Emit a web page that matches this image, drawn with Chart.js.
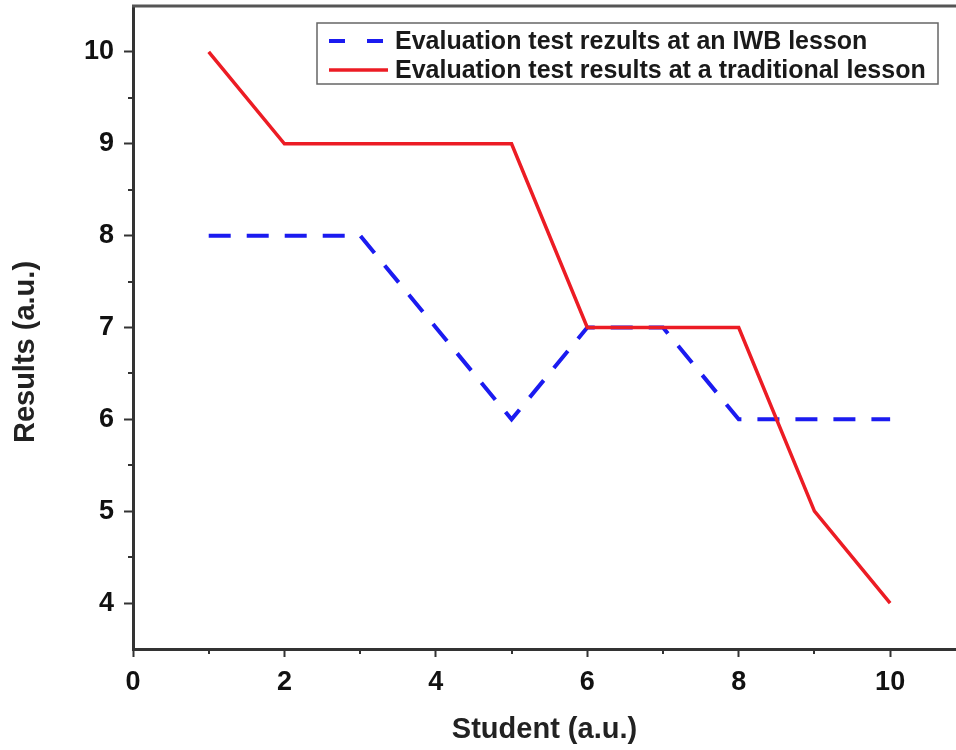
<!DOCTYPE html>
<html>
<head>
<meta charset="utf-8">
<script src="https://cdn.jsdelivr.net/npm/chart.js@4"></script>
<style>
  html, body { margin: 0; padding: 0; background: #fff; }
  #wrap { width: 956px; height: 750px; }
</style>
</head>
<body>
<div id="wrap"><canvas id="chart" width="956" height="750"></canvas></div>
<script>
// Student numbers and test results
const students = [1, 2, 3, 4, 5, 6, 7, 8, 9, 10];
const iwbResults = [8, 8, 8, 7, 6, 7, 7, 6, 6, 6];
const traditionalResults = [10, 9, 9, 9, 9, 7, 7, 7, 5, 4];

const seriesLabels = [
    'Evaluation test rezults at an IWB lesson',
    'Evaluation test results at a traditional lesson'
];

const xMajorTicks = [0, 2, 4, 6, 8, 10];
const xMinorTicks = [1, 3, 5, 7, 9];
const yMajorTicks = [4, 5, 6, 7, 8, 9, 10];
const yMinorTicks = [4.5, 5.5, 6.5, 7.5, 8.5, 9.5];

const xTitle = 'Student (a.u.)';
const yTitle = 'Results (a.u.)';

const FONT = '"Liberation Sans", Arial, sans-serif';
const AXIS_COLOR = '#333';

function toPoints(xs, ys) {
    return xs.map((x, i) => ({ x: x, y: ys[i] }));
}

/**
 * Minor ticks, top frame line, y title and the boxed legend inside the plot
 */
const framePlugin = {
    id: 'frame',
    afterDraw(chart) {
        const ctx = chart.ctx;
        const area = chart.chartArea;
        const xs = chart.scales.x;
        const ys = chart.scales.y;

        ctx.save();
        ctx.strokeStyle = AXIS_COLOR;
        ctx.lineWidth = 2;

        // minor ticks
        xMinorTicks.forEach(v => {
            const px = Math.round(xs.getPixelForValue(v));
            ctx.beginPath();
            ctx.moveTo(px, area.bottom);
            ctx.lineTo(px, area.bottom + 5);
            ctx.stroke();
        });
        yMinorTicks.forEach(v => {
            const py = Math.round(ys.getPixelForValue(v));
            ctx.beginPath();
            ctx.moveTo(area.left, py);
            ctx.lineTo(area.left - 5, py);
            ctx.stroke();
        });

        // top frame line
        ctx.strokeStyle = '#555';
        ctx.lineWidth = 3;
        ctx.beginPath();
        ctx.moveTo(area.left - 1, area.top);
        ctx.lineTo(area.right, area.top);
        ctx.stroke();

        // y axis title (sits a bit below the axis centre in the original)
        ctx.save();
        ctx.translate(26, 352);
        ctx.rotate(-Math.PI / 2);
        ctx.font = 'bold 29px ' + FONT;
        ctx.fillStyle = '#222';
        ctx.textAlign = 'center';
        ctx.textBaseline = 'middle';
        ctx.fillText(yTitle, 0, 0);
        ctx.restore();

        // legend box
        const box = { left: 317, top: 23, width: 621, height: 61 };
        ctx.fillStyle = '#fff';
        ctx.fillRect(box.left, box.top, box.width, box.height);
        ctx.strokeStyle = '#666';
        ctx.lineWidth = 1.5;
        ctx.strokeRect(box.left, box.top, box.width, box.height);

        ctx.font = 'bold 25px ' + FONT;
        ctx.textBaseline = 'middle';
        ctx.textAlign = 'left';
        chart.data.datasets.forEach((ds, i) => {
            const cy = box.top + 18 + i * 29;
            ctx.strokeStyle = ds.borderColor;
            ctx.lineWidth = ds.borderWidth;
            ctx.setLineDash(ds.borderDash ? [16, 22] : []);
            ctx.beginPath();
            ctx.moveTo(box.left + 12, cy);
            ctx.lineTo(box.left + 71, cy);
            ctx.stroke();
            ctx.setLineDash([]);
            ctx.fillStyle = '#1a1a1a';
            ctx.fillText(ds.label, box.left + 78, cy + 1);
        });
        ctx.restore();
    }
};

const chart = new Chart(document.getElementById('chart'), {
    type: 'line',
    data: {
        datasets: [{
            label: seriesLabels[0],
            data: toPoints(students, iwbResults),
            borderColor: '#1b1bf0',
            borderWidth: 4,
            borderDash: [22, 16],
            pointRadius: 0,
            tension: 0,
            order: 1
        }, {
            label: seriesLabels[1],
            data: toPoints(students, traditionalResults),
            borderColor: '#ec1c24',
            borderWidth: 3.5,
            pointRadius: 0,
            tension: 0,
            order: 0
        }]
    },
    options: {
        responsive: false,
        animation: false,
        devicePixelRatio: 1,
        layout: { padding: { top: 6, right: 0, bottom: 3, left: 0 } },
        plugins: {
            legend: { display: false },
            tooltip: { enabled: false }
        },
        scales: {
            x: {
                type: 'linear',
                min: 0,
                max: 10.87,
                afterBuildTicks: scale => {
                    scale.ticks = xMajorTicks.map(v => ({ value: v }));
                },
                afterFit: scale => {
                    scale.height = 98;
                    scale.paddingLeft = 0;
                    scale.paddingRight = 0;
                },
                grid: {
                    drawOnChartArea: false,
                    tickLength: 8,
                    tickWidth: 2,
                    tickColor: AXIS_COLOR
                },
                border: { color: AXIS_COLOR, width: 3 },
                ticks: {
                    color: '#111',
                    padding: 9,
                    maxRotation: 0,
                    font: { family: FONT, size: 27, weight: 'bold' }
                },
                title: {
                    display: true,
                    text: xTitle,
                    color: '#222',
                    padding: { top: 0, bottom: 0 },
                    font: { family: FONT, size: 29, weight: 'bold' }
                }
            },
            y: {
                type: 'linear',
                min: 3.5,
                max: 10.5,
                afterBuildTicks: scale => {
                    scale.ticks = yMajorTicks.map(v => ({ value: v }));
                },
                afterFit: scale => {
                    scale.width = 133;
                    scale.paddingTop = 0;
                    scale.paddingBottom = 0;
                },
                grid: {
                    drawOnChartArea: false,
                    tickLength: 9,
                    tickWidth: 2,
                    tickColor: AXIS_COLOR
                },
                border: { color: AXIS_COLOR, width: 3 },
                ticks: {
                    color: '#111',
                    padding: 10,
                    font: { family: FONT, size: 27, weight: 'bold' }
                }
            }
        }
    },
    plugins: [framePlugin]
});
</script>
</body>
</html>
